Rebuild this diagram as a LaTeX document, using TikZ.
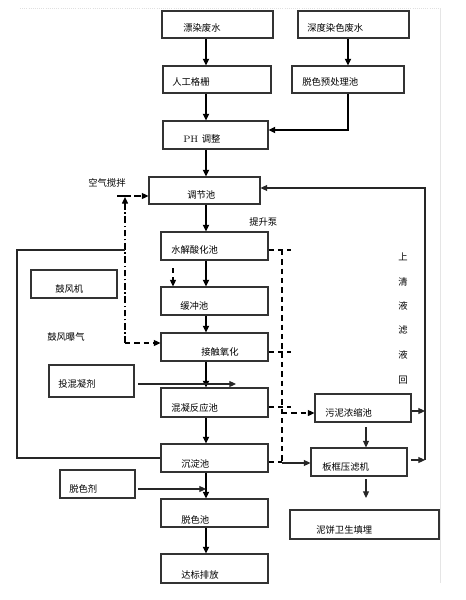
\documentclass[tikz,border=0pt]{standalone}
\usepackage{fontspec}
\newfontfamily\cjk{Noto Sans CJK SC}
\usetikzlibrary{arrows.meta,fit}
\begin{document}
\begin{tikzpicture}[x=0.75pt,y=-0.75pt,
  box/.style={draw=black!80,line width=0.8pt,inner sep=0pt},
  lbl/.style={font=\cjk\fontsize{7}{8}\selectfont,anchor=west,inner sep=0pt},
  flow/.style={line width=1.5pt,-{Triangle[length=5pt,width=4.5pt]}},
  thin/.style={line width=0.8pt,black!85,-{Triangle[length=5pt,width=4.5pt]}},
  plain/.style={line width=0.8pt,black!85},
  dsh/.style={line width=1pt,dash pattern=on 4pt off 3pt},
  ddot/.style={line width=1pt,dash pattern=on 5pt off 2pt on 1pt off 2pt}]
\useasboundingbox (0,0) rectangle (466,600);
\fill[white] (0,0) rectangle (466,600);
% faint page border
\draw[black!12,line width=0.6pt,densely dotted] (20,8) -- (440,8);
\draw[black!10,line width=0.6pt] (440,8) -- (440,583);
\coordinate (mx) at (206,0);
\coordinate (dx) at (282,0);
\coordinate (rx) at (425,0);
% boxes
\node[box,fit={(162,11) (273,38)}] (pr) {};
\node[box,fit={(298,11) (409,38)}] (sd) {};
\node[box,fit={(163,66) (271,93)}] (gs) {};
\node[box,fit={(292,66) (404,93)}] (ts) {};
\node[box,fit={(163,121) (268,149)}] (ph) {};
\node[box,fit={(149,177) (260,204)}] (tj) {};
\node[box,fit={(161,232) (268,260)}] (sj) {};
\node[box,fit={(161,287) (268,315)}] (hc) {};
\node[box,fit={(31,270) (117,298)}] (gf) {};
\node[box,fit={(161,333) (268,361)}] (jc) {};
\node[box,fit={(49,365) (134,397)}] (tr) {};
\node[box,fit={(161,388) (268,417)}] (hn) {};
\node[box,fit={(315,394) (411,422)}] (wn) {};
\node[box,fit={(161,444) (268,472)}] (cd) {};
\node[box,fit={(311,448) (407,476)}] (bk) {};
\node[box,fit={(60,470) (135,498)}] (tsj) {};
\node[box,fit={(161,499) (268,527)}] (ts2) {};
\node[box,fit={(290,510) (439,539)}] (nb) {};
\node[box,fit={(161,554) (268,583)}] (db) {};
% texts
\node[lbl] (t1) at (183,28) {漂染废水};
\node[lbl] (t2) at (307,28) {深度染色废水};
\node[lbl] (t3) at (172,82) {人工格栅};
\node[lbl] (t4) at (302,82) {脱色预处理池};
\node[lbl] (t5) at (183,139) {\rmfamily PH\ \cjk 调整};
\node[lbl] (t6) at (187,195) {调节池};
\node[lbl] (t7) at (88,183) {空气搅拌};
\node[lbl] (t8) at (249,222) {提升泵};
\node[lbl] (t9) at (171,250) {水解酸化池};
\node[lbl] (t10) at (180,306) {缓冲池};
\node[lbl] (t11) at (55,289) {鼓风机};
\node[lbl] (t12) at (47,337) {鼓风曝气};
\node[lbl] (t13) at (201,352) {接触氧化};
\node[lbl] (t14) at (58,384) {投混凝剂};
\node[lbl] (t15) at (171,408) {混凝反应池};
\node[lbl] (t16) at (325,413) {污泥浓缩池};
\node[lbl] (t17) at (181,464) {沉淀池};
\node[lbl] (t18) at (322,467) {板框压滤机};
\node[lbl] (t19) at (69,489) {脱色剂};
\node[lbl] (t20) at (181,520) {脱色池};
\node[lbl] (t21) at (316,530) {泥饼卫生填埋};
\node[lbl] (t22) at (181,575) {达标排放};
\foreach \c/\y/\n in {上/257/a,清/282/b,液/306/c,滤/330/d,液/355/e,回/380/f}
  \node[font=\cjk\fontsize{7}{8}\selectfont,inner sep=0pt] (v\n) at (403,\y) {\c};
% main flow
\draw[flow] (pr.south -| mx) -- (gs.north -| mx);
\draw[flow] (sd.south -| 348,0) -- (ts.north -| 348,0);
\draw[flow] (gs.south -| mx) -- (ph.north -| mx);
\draw[flow] (ts.south -| 348,0) -- (348,130) -- (ph.east |- 0,130);
\draw[flow] (ph.south -| mx) -- (tj.north -| mx);
\draw[flow] (tj.south -| mx) -- (sj.north -| mx);
\draw[flow] (sj.south -| mx) -- (hc.north -| mx);
\draw[flow] (hc.south -| mx) -- (jc.north -| mx);
\draw[flow] (jc.south -| mx) -- (hn.north -| mx);
\draw[flow] (hn.south -| mx) -- (cd.north -| mx);
\draw[flow] (cd.south -| mx) -- (ts2.north -| mx);
\draw[flow] (ts2.south -| mx) -- (db.north -| mx);
% dosing
\coordinate (d1) at (236,384);
\coordinate (d2) at (206,489);
\draw[thin] (138,384) -- (d1);
\draw[thin] (138,489) -- (d2);
% sludge side
\draw[thin] (366,427) -- (bk.north -| 366,0);
\draw[thin] (366,479) -- (366,498);
\draw[thin] (wn.east |- 0,411) -- (rx |- 0,411);
\draw[thin] (411,460) -- (rx |- 0,460);
\draw[plain,-{Triangle[length=5pt,width=4.5pt]}] (rx |- 0,460) -- (rx |- 0,188) -- (tj.east |- 0,188);
% dashed sludge collection
\draw[dsh] (sj.east |- 0,250) -- (291,250);
\draw[dsh] (jc.east |- 0,352) -- (291,352);
\draw[dsh] (hn.east |- 0,407) -- (291,407);
\draw[dsh] (cd.east |- 0,462) -- (282,462);
\draw[dsh] (dx |- 0,250) -- (dx |- 0,462);
\draw[dsh,-{Triangle[length=5pt,width=4.5pt]}] (dx |- 0,413) -- (wn.west |- 0,413);
\draw[thin] (dx |- 0,463) -- (bk.west |- 0,463);
% small dashed arrow
\draw[dsh,-{Triangle[length=5pt,width=4.5pt]}] (173,268) -- (hc.north -| 173,0);
% air
\draw[ddot,-{Triangle[length=5pt,width=4.5pt]}] (125,343) -- (125,197);
\draw[line width=1.2pt] (117,196) -- (131,196);
\draw[ddot,-{Triangle[length=5pt,width=4.5pt]}] (134,196) -- (tj.west |- 0,196);
\draw[dsh,-{Triangle[length=5pt,width=4.5pt]}] (125,343) -- (jc.west |- 0,343);
% left return line
\draw[plain] (cd.west |- 0,458) -- (17,458) -- (17,250) -- (125,250);
\end{tikzpicture}
\end{document}
